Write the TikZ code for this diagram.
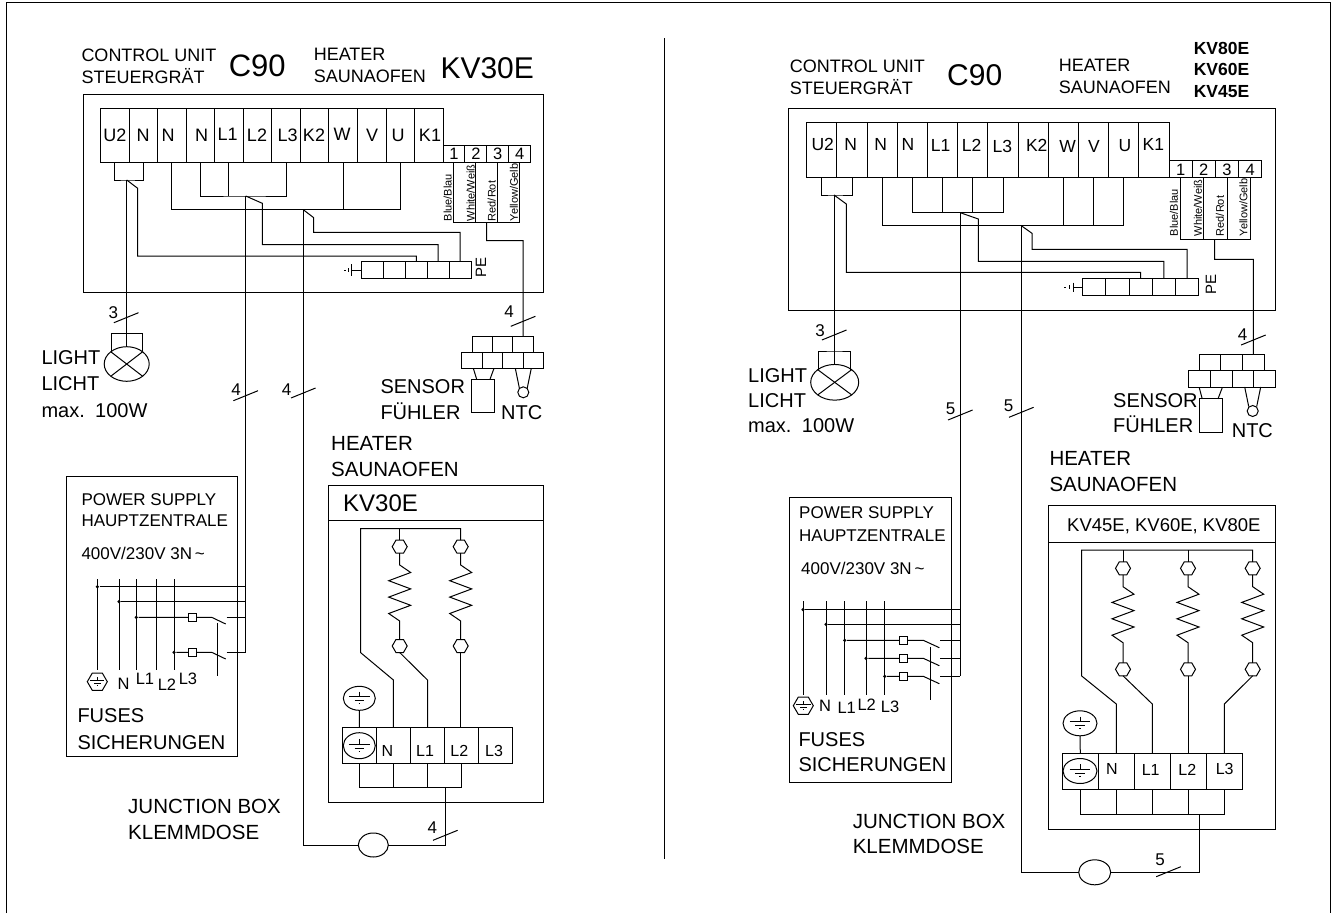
\documentclass[tikz,border=0pt]{standalone}
\usepackage{fontspec}
\setmainfont{Liberation Sans}
\usetikzlibrary{shapes.geometric}

\begin{document}
\begin{tikzpicture}[
  x=1pt, y=-1pt, line width=1pt,
  cell/.style 2 args={
    draw, rectangle, inner sep=0pt, outer sep=0pt,
    minimum width=#1, minimum height=#2,
  },
  oval/.style 2 args={
    draw, ellipse, inner sep=0pt, outer sep=0pt,
    minimum width=#1, minimum height=#2,
  },
  hexa/.style={
    draw, regular polygon, regular polygon sides=6,
    inner sep=0pt, outer sep=0pt, minimum size=#1,
  },
  jdot/.style={fill, circle, inner sep=0pt, minimum size=3.5pt},
  txt/.style={
    inner sep=0pt, anchor=west, font=\fontsize{#1}{#1}\selectfont,
    text height=.716*#1, text depth=0pt,
  },
  tag/.style={txt=#1, anchor=center},
  wirelab/.style={txt=11, rotate=90},
]

  \def\zigzag{-- ++(11,7.5) -- ++(-22,8.2) -- ++(22,8.2) -- ++(-22,8.2) -- ++(22,8.2) -- ++(-22,8.2) -- ++(11,7.5)}

  \def\drawGnd#1#2{
    \draw [scale=#2] (#1) ++(-13,-2) -- ++(26,0) (#1) ++(0,-8.5) -- ++(0,6.5) (#1) ++(-6,3) -- ++(12,0) (#1) ++(-1,7) -- ++(2,0);
  }

  \useasboundingbox (0,0) rectangle (1336,913);

  \draw (6.7,913) |- (1330,2) -- (1330,913);
  \draw (664.5,38) -- (664.5,859);

  \foreach \x/\y/\sz/\str [count=\i] in {
    81/55/18/CONTROL UNIT, 81/76.7/18/STEUERGRÄT, 228.3/65/31/C90,
    313.3/54/18/HEATER, 313.3/75.7/18/SAUNAOFEN, 440/67.3/30/KV30E,
    41/357.7/20/LIGHT, 41/383.3/20/LICHT, 41/410/20/max.\hspace{3pt} 100W,
    380/386.7/20/SENSOR, 380/412.7/20/FÜHLER, 500.7/412.7/20/NTC,
    330.7/443/20.5/HEATER, 330.7/469/20.5/SAUNAOFEN,
    81/499/17/POWER SUPPLY, 81/520.7/17/HAUPTZENTRALE,
    81/553.3/17/{400V/230V 3N\,\textasciitilde},
    77/715.7/20/FUSES, 77/742/20/SICHERUNGEN, 342.7/502.7/24/KV30E,
    127.7/805.7/20.5/JUNCTION BOX, 127.7/831.7/20.5/KLEMMDOSE%
  } {
    \node [txt=\sz] (Ltxt\i) at (\x,\y) {\str};
  }

  \draw (83.5,94) rectangle (543.7,292);
  \draw (66.7,476.7) rectangle (237,756.7);
  \draw (328.7,485) rectangle (543.7,802.3);
  \draw (328.7,520.7) -- (543.7,520.7);

  \foreach \i/\lab/\lx/\ly in {
    1/U2/115/135, 2/N/143/135, 3/N/168/135, 4/N/201.7/135, 5/L1/227.7/134, 6/L2/257/135,
    7/L3/287.7/135, 8/K2/314/135, 9/W/342/134, 10/V/372/135, 11/U/398/135, 12/K1/430/135%
  } {
    \node [cell={28.55}{53.6}] (La\i) at ({100.5+28.55*(\i-.5)},135.5) {};
    \node [tag=18] (Latag\i) at (\lx,\ly) {\lab};
  }
  \foreach \i/\lx/\str in {1/447.7/{Blue/Blau}, 2/470.7/{White/Weiß}, 3/491.7/{Red/Rot}, 4/514/{Yellow/Gelb}} {
    \node [cell={21.93}{16.6}] (Lb\i) at ({443+21.93*(\i-.5)},154) {};
    \node [tag=16.5] (Lbtag\i) at (Lb\i) {\i};
    \node [wirelab] (Lblab\i) at (\lx,221.7) {\str};
  }
  \foreach \i in {1,...,5} {
    \node [cell={21.86}{16.6}] (Lp\i) at ({361.7+21.86*(\i-.5)},270) {};
  }
  \node [txt=15, rotate=90] (Lpe) at (480.7,278) {PE};

  \coordinate (Lj1) at (126.7,180);
  \coordinate (Lj2) at (245.7,196);
  \coordinate (Lj3) at (303.3,209.7);
  \coordinate (Lj4) at (486.7,222.3);
  \coordinate (Lm1) at (137.7,188.3);
  \coordinate (Lm2) at (262.3,203.3);
  \coordinate (Lm3) at (313.7,217.7);
  \draw (La1.south) |- (Lj1) -| (La2.south);
  \draw (La4.south) |- (Lj2) -| (La7.south);
  \draw (La5.south) -- (La5.south |- Lj2);
  \draw (La3.south) |- (Lj3) -| (La11.south);
  \draw (La9.south) -- (La9.south |- Lj3);
  \draw (Lb1.south) |- (Lj4) -| (Lb4.south);
  \draw (Lb2.south) -- (Lb2.south |- Lj4);
  \draw (Lb3.south) -- (Lb3.south |- Lj4);
  \draw (Lj1) -- (Lm1) |- (Lp3.north |- 0,256) -- (Lp3.north);
  \draw (Lj2) -- (Lm2) |- (Lp4.north |- 0,244.7) -- (Lp4.north);
  \draw (Lj3) -- (Lm3) |- (Lp5.north |- 0,232.3) -- (Lp5.north);
  \draw (Lp1.west) -- ++(-10,0) ++(0,-6) -- ++(0,12) ++(-3,-8) -- ++(0,4) ++(-4.5,-2) -- ++(2,0);

  \foreach \i in {1,...,3} {
    \node [cell={20.45}{16}] (Ls\i) at ({472+20.45*(\i-.5)},344) {};
  }
  \foreach \i in {1,...,4} {
    \node [cell={20.5}{16.3}] (Lt\i) at ({461.7+20.5*(\i-.5)},360.2) {};
  }
  \node [cell={22.6}{33.4}] (Lsb) at (483,396) {};
  \node [draw, circle, inner sep=0pt, minimum size=11pt] (Lntc) at (523.3,392.3) {};
  \draw (Lsb.north west) ++(5,0) -- ++(-3.4,-11);
  \draw (Lsb.north east) ++(-4.3,0) -- ++(4,-11);
  \draw (Lntc) ++(-4,-4.5) -- ++(-4,-19.5);
  \draw (Lntc) ++(4,-4.5) -- ++(4,-19.5);
  \coordinate (Lk4) at (523.1,240.7);
  \draw (Lj4) |- (Lk4) -- (Ls3.north);

  \node [oval={45}{34.6}] (Llamp) at (126.7,364) {};
  \draw (Llamp.north west) -- (Llamp.south east);
  \draw (Llamp.north east) -- (Llamp.south west);
  \coordinate (Lh1) at (111.3,351.4);
  \coordinate (Lh2) at (142.1,351.4);
  \coordinate (Lh3) at (126.7,333.3);
  \draw (Lh1) |- (Lh3) -| (Lh2);
  \draw (Lj1) -- (Llamp.north);

  \foreach \i/\x in {1/97.3, 2/119, 3/136.3, 4/156.7, 5/174} {
    \coordinate (Lg\i) at (\x,579.3);
    \draw (Lg\i) -- (\x,670);
  }
  \coordinate (Lu) at (245.7,652.3);
  \draw (Lj2) -- (Lu);
  \foreach \i/\y in {1/586.7, 2/601.7} {
    \node [jdot] (Ld\i) at (Lg\i |- 0,\y) {};
    \draw (Ld\i) -- (Lu |- Ld\i);
  }
  \foreach \i/\j/\y in {3/1/617.3, 5/2/652.3} {
    \node [jdot] (Ld\i) at (Lg\i |- 0,\y) {};
    \node [cell={8.5}{8.5}] (Lf\j) at (192.5,\y) {};
    \coordinate (Lw\j) at (226.7,\y);
    \draw (Ld\i) -- (Lf\j) -- ++(19.2,0) -- ++(14,6.7);
    \draw (Lw\j) -- (Lu |- Lw\j);
  }
  \draw (217.7,623.3) -- (217.7,676);
  \node [hexa=20] (Lpg) at (97.3,681.7) {};
  \drawGnd{Lpg}{.55}
  \foreach \lab/\x/\y/\sz in {N/123.5/684/16.5, L1/145/678.3/16.5, L2/167/684.3/16.5, L3/188/679/16.5} {
    \node [tag=\sz] (Lps\lab) at (\x,\y) {\lab};
  }

  \foreach \i/\lab/\lx/\ly in {1//0/0, 2/N/387.3/751, 3/L1/425/751, 4/L2/459.3/751, 5/L3/494/751} {
    \node [cell={34.08}{35.6}] (Le\i) at ({342.3+34.08*(\i-.5)},745.5) {};
    \ifx\lab\empty\else\node [tag=16] (Letag\i) at (\lx,\ly) {\lab};\fi
  }
  \node [oval={32}{24}] (Lg1e) at (359.3,698.3) {};
  \node [oval={32}{26}] (Lg2e) at (359.3,745.7) {};
  \drawGnd{Lg1e}{.8}
  \drawGnd{Lg2e}{.8}
  \draw (Lg1e.south) -- (Le1.north);

  \coordinate (Lrail) at (360.7,528.7);
  \foreach \i/\x in {1/399.7, 2/460.7} {
    \node [hexa=15] (Lrt\i) at (\x,546.7) {};
    \node [hexa=15] (Lrb\i) at (\x,646) {};
    \draw (Lrt\i.north) -- (Lrt\i.north |- Lrail);
    \draw (Lrt\i.south) -- (Lrt\i.south |- 0,565) \zigzag -- (Lrb\i.north);
  }
  \draw (Le2.north) -- (Le2.north |- 0,680) -- (360.7,652.7) -- (Lrail) -| (Lrt2.north);
  \draw (Lrb1.south) -- (Le3.north |- 0,680) -- (Le3.north);
  \draw (Lrb2.south) -- (Lrb2.south |- Le4.north);

  \coordinate (Lj6) at (445.3,787.7);
  \node [oval={30}{24}] (Ljb) at (373.3,845) {};
  \draw (Le1.south) |- (Lj6) -| (Le4.south);
  \draw (Le2.south) -- (Le2.south |- Lj6);
  \draw (Le3.south) -- (Le3.south |- Lj6);
  \draw (Lj6) |- (Ljb.east);
  \draw (Lj3) |- (Ljb.west);

  \foreach \name/\cx/\cy/\lx/\ly/\num in {
    Ln1/126.2/317.7/113.3/312.7/3, Ln2/523.1/321.3/509/311/4, Ln3/245.7/395.7/236/389/4,
    Ln4/303.3/393/286.7/389/4, Ln5/445.3/835.3/432.3/827.3/4%
  } {
    \node [tag=17] (\name) at (\lx,\ly) {\num};
    \coordinate (\name c) at (\cx,\cy);
    \draw (\name c) ++(-12.3,5) -- ++(24.6,-10);
  }

  \foreach \x/\y/\sz/\str [count=\i] in {
    789.3/66/18/CONTROL UNIT, 789.3/87.7/18/STEUERGRÄT, 946.7/75/30/C90,
    1058.3/65/18/HEATER, 1058.3/87.3/18/SAUNAOFEN,
    747.7/375/20/LIGHT, 747.7/400/20/LICHT, 747.7/425.7/20/max.\hspace{3pt} 100W,
    1112.7/400/20/SENSOR, 1112.7/425/20/FÜHLER, 1231.3/430/20/NTC,
    1049/458.3/20.5/HEATER, 1049/484/20.5/SAUNAOFEN,
    798.7/512.7/17/POWER SUPPLY, 798.7/535/17/HAUPTZENTRALE,
    800.7/568.3/17/{400V/230V 3N\,\textasciitilde},
    798/739/20/FUSES, 798/764/20/SICHERUNGEN, 1066.7/525/18.5/{KV45E, KV60E, KV80E},
    852.3/820.7/20.5/JUNCTION BOX, 852.3/846/20.5/KLEMMDOSE%
  } {
    \node [txt=\sz] (Rtxt\i) at (\x,\y) {\str};
  }
  \foreach \y/\str [count=\i] in {48.3/KV80E, 69.3/KV60E, 91/KV45E} {
    \node [txt=17.5, font=\fontsize{17.5}{17.5}\selectfont\bfseries] (Rkv\i) at (1193.3,\y) {\str};
  }

  \draw (788.7,108) rectangle (1275.3,310);
  \draw (789,497.7) rectangle (951.3,782);
  \draw (1048.3,505.7) rectangle (1275,829);
  \draw (1048.3,542) -- (1275,542);

  \foreach \i/\lab/\lx/\ly in {
    1/U2/822.7/144.3, 2/N/850.7/144, 3/N/880.7/144, 4/N/908/144, 5/L1/940.7/145.3, 6/L2/971.7/145.3,
    7/L3/1002.3/146, 8/K2/1036.7/145.3, 9/W/1067.7/146, 10/V/1094/146.7, 11/U/1125/145, 12/K1/1153.3/144%
  } {
    \node [cell={30.2}{55}] (Ra\i) at ({806.7+30.2*(\i-.5)},150.2) {};
    \node [tag=17.5] (Ratag\i) at (\lx,\ly) {\lab};
  }
  \foreach \i/\lx/\str in {1/1174/{Blue/Blau}, 2/1198/{White/Weiß}, 3/1220/{Red/Rot}, 4/1243.3/{Yellow/Gelb}} {
    \node [cell={23.2}{17}] (Rb\i) at ({1169+23.2*(\i-.5)},169.2) {};
    \node [tag=16.5] (Rbtag\i) at (Rb\i) {\i};
    \node [wirelab] (Rblab\i) at (\lx,236.7) {\str};
  }
  \foreach \i in {1,...,5} {
    \node [cell={23.2}{17.3}] (Rp\i) at ({1082.7+23.2*(\i-.5)},287.3) {};
  }
  \node [txt=15, rotate=90] (Rpe) at (1210.7,295) {PE};

  \coordinate (Rj1) at (834,195);
  \coordinate (Rj2) at (960.3,212.7);
  \coordinate (Rj3) at (1021.3,225.7);
  \coordinate (Rj4) at (1214.7,239.7);
  \coordinate (Rm1) at (846.3,204);
  \coordinate (Rm2) at (978.3,219);
  \coordinate (Rm3) at (1032,233.3);
  \draw (Ra1.south) |- (Rj1) -| (Ra2.south);
  \draw (Ra4.south) |- (Rj2) -| (Ra7.south);
  \draw (Ra5.south) -- (Ra5.south |- Rj2);
  \draw (Ra6.south) -- (Ra6.south |- Rj2);
  \draw (Ra3.south) |- (Rj3) -| (Ra11.south);
  \draw (Ra9.south) -- (Ra9.south |- Rj3);
  \draw (Ra10.south) -- (Ra10.south |- Rj3);
  \draw (Rb1.south) |- (Rj4) -| (Rb4.south);
  \draw (Rb2.south) -- (Rb2.south |- Rj4);
  \draw (Rb3.south) -- (Rb3.south |- Rj4);
  \draw (Rj1) -- (Rm1) |- (Rp3.north |- 0,272.3) -- (Rp3.north);
  \draw (Rj2) -- (Rm2) |- (Rp4.north |- 0,261.3) -- (Rp4.north);
  \draw (Rj3) -- (Rm3) |- (Rp5.north |- 0,249.3) -- (Rp5.north);
  \draw (Rp1.west) -- ++(-9.4,0) ++(0,-4.7) -- ++(0,9.4) ++(-4.3,-6.7) -- ++(0,4) ++(-5,-2) -- ++(2,0);

  \foreach \i in {1,...,3} {
    \node [cell={21.67}{16.4}] (Rs\i) at ({1199.3+21.67*(\i-.5)},362.5) {};
  }
  \foreach \i in {1,...,4} {
    \node [cell={21.67}{16.3}] (Rt\i) at ({1188.7+21.67*(\i-.5)},378.9) {};
  }
  \node [cell={22.3}{33.3}] (Rsb) at (1211.1,415.6) {};
  \node [draw, circle, inner sep=0pt, minimum size=11pt] (Rntc) at (1252.7,411) {};
  \draw (Rsb.north west) ++(2.3,0) -- ++(-3,-11.3);
  \draw (Rsb.north east) ++(-4.3,0) -- ++(4.3,-11.3);
  \draw (Rntc) ++(-4,-4.5) -- ++(-4,-19.5);
  \draw (Rntc) ++(4,-4.5) -- ++(4,-19.5);
  \coordinate (Rk4) at (1253.4,259.3);
  \draw (Rj4) |- (Rk4) -- (Rs3.north);

  \node [oval={48}{35.7}] (Rlamp) at (834.7,382.3) {};
  \draw (Rlamp.north west) -- (Rlamp.south east);
  \draw (Rlamp.north east) -- (Rlamp.south west);
  \coordinate (Rh1) at (818,369.5);
  \coordinate (Rh2) at (850.7,369.5);
  \coordinate (Rh3) at (834.7,351);
  \draw (Rh1) |- (Rh3) -| (Rh2);
  \draw (Rj1) -- (Rj1 |- Rlamp.north);

  \foreach \i/\x in {1/803, 2/826, 3/844.7, 4/866, 5/884.7} {
    \coordinate (Rg\i) at (\x,601);
    \draw (Rg\i) -- (\x,695);
  }
  \coordinate (Ru) at (960.3,676.3);
  \draw (Rj2) -- (Ru);
  \foreach \i/\y in {1/609.7, 2/624.3} {
    \node [jdot] (Rd\i) at (Rg\i |- 0,\y) {};
    \draw (Rd\i) -- (Ru |- Rd\i);
  }
  \foreach \i/\j/\y in {3/1/640.3, 4/2/658.3, 5/3/676.3} {
    \node [jdot] (Rd\i) at (Rg\i |- 0,\y) {};
    \node [cell={8.7}{8.5}] (Rf\j) at (903.6,\y) {};
    \coordinate (Rw\j) at (940,\y);
    \draw (Rd\i) -- (Rf\j) -- ++(19.7,0) -- ++(16,7.4);
    \draw (Rw\j) -- (Ru |- Rw\j);
  }
  \draw (930.3,646.7) -- (930.3,700);
  \node [hexa=20] (Rpg) at (803.3,705.7) {};
  \drawGnd{Rpg}{.55}
  \foreach \lab/\x/\y/\sz in {N/825/705.7/16.5, L1/846.7/707.7/16.5, L2/866.7/704.3/16.5, L3/890/707/16.5} {
    \node [tag=\sz] (Rps\lab) at (\x,\y) {\lab};
  }

  \foreach \i/\lab/\lx/\ly in {1//0/0, 2/N/1112/768.3, 3/L1/1150.7/769.3, 4/L2/1187.3/769.3, 5/L3/1224.7/768.3} {
    \node [cell={36}{36}] (Re\i) at ({1062.3+36*(\i-.5)},771.3) {};
    \ifx\lab\empty\else\node [tag=16] (Retag\i) at (\lx,\ly) {\lab};\fi
  }
  \node [oval={34}{25}] (Rg1e) at (1080,723.3) {};
  \node [oval={34}{25}] (Rg2e) at (1080,771) {};
  \drawGnd{Rg1e}{.8}
  \drawGnd{Rg2e}{.8}
  \draw (Rg1e.south) -- (Re1.north);

  \coordinate (Rrail) at (1081.7,550);
  \foreach \i/\x in {1/1123, 2/1188, 3/1252.7} {
    \node [hexa=15] (Rrt\i) at (\x,568.3) {};
    \node [hexa=15] (Rrb\i) at (\x,669.3) {};
    \draw (Rrt\i.north) -- (Rrt\i.north |- Rrail);
    \draw (Rrt\i.south) -- (Rrt\i.south |- 0,586.7) \zigzag -- (Rrb\i.north);
  }
  \draw (Re2.north) -- (Re2.north |- 0,704) -- (1081.7,676) -- (Rrail) -| (Rrt3.north);
  \draw (Rrb1.south) -- (Re3.north |- 0,704) -- (Re3.north);
  \draw (Rrb2.south) -- (Rrb2.south |- Re4.north);
  \draw (Rrb3.south) -- (Re5.north |- 0,704) -- (Re5.north);

  \coordinate (Rj6) at (1199,814);
  \node [oval={32}{25}] (Rjb) at (1094.7,872.3) {};
  \draw (Re1.south) |- (Rj6) -| (Re5.south);
  \draw (Re2.south) -- (Re2.south |- Rj6);
  \draw (Re3.south) -- (Re3.south |- Rj6);
  \draw (Re4.south) -- (Re4.south |- Rj6);
  \draw (Rj6) |- (Rjb.east);
  \draw (Rj3) |- (Rjb.west);

  \foreach \name/\cx/\cy/\lx/\ly/\num in {
    Rn1/834.2/335/820/330/3, Rn2/1253.4/340/1242.7/334/4, Rn3/960.3/415/950.7/408.3/5,
    Rn4/1021.3/412.3/1008.7/405.7/5, Rn5/1168.5/871.7/1160/859/5%
  } {
    \node [tag=17] (\name) at (\lx,\ly) {\num};
    \coordinate (\name c) at (\cx,\cy);
    \draw (\name c) ++(-12.3,5) -- ++(24.6,-10);
  }

\end{tikzpicture}
\end{document}
